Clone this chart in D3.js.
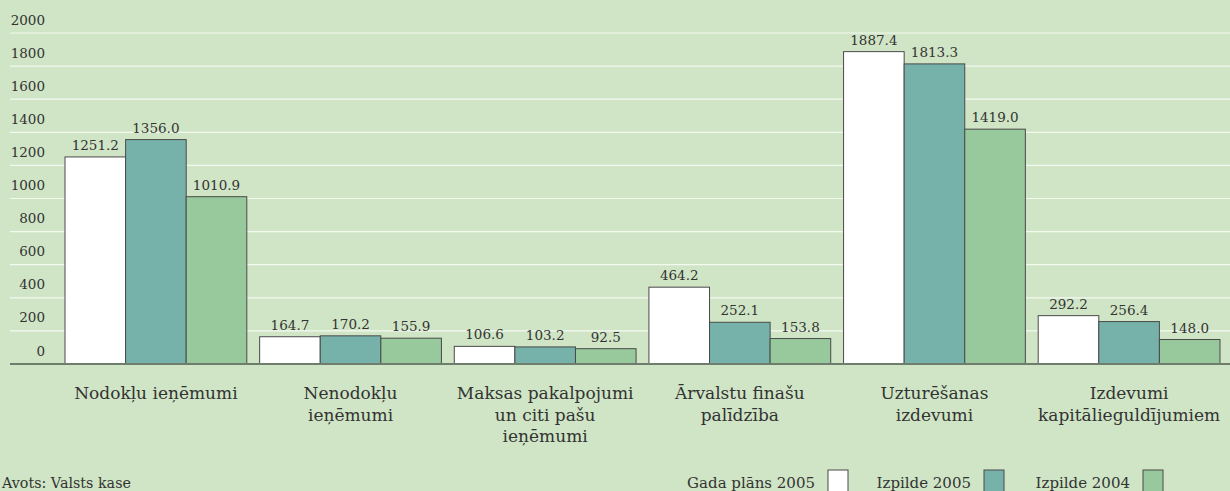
<!DOCTYPE html>
<html>
<head>
<meta charset="utf-8">
<script src="https://cdn.jsdelivr.net/npm/d3@7"></script>
<style>
  body { margin: 0; background: #cfe5c5; }
  svg { display: block; font-family: "DejaVu Serif", serif; }
</style>
</head>
<body>
<svg id="chart" width="1230" height="491"></svg>
<script>
// categories (multi-line labels)
const categories = [
  ["Nodokļu ieņēmumi"],
  ["Nenodokļu", "ieņēmumi"],
  ["Maksas pakalpojumi", "un citi pašu", "ieņēmumi"],
  ["Ārvalstu finašu", "palīdzība"],
  ["Uzturēšanas", "izdevumi"],
  ["Izdevumi", "kapitālieguldījumiem"]
];
const seriesNames = ["Gada plāns 2005", "Izpilde 2005", "Izpilde 2004"];
const plan2005 = [1251.2, 164.7, 106.6, 464.2, 1887.4, 292.2];
const actual2005 = [1356.0, 170.2, 103.2, 252.1, 1813.3, 256.4];
const actual2004 = [1010.9, 155.9, 92.5, 153.8, 1419.0, 148.0];
const yTicks = [0, 200, 400, 600, 800, 1000, 1200, 1400, 1600, 1800, 2000];

const colors = ["#ffffff", "#76b2aa", "#97c99c"];
const series = [plan2005, actual2005, actual2004];

const svg = d3.select("#chart");
const W = 1230;

// scales
const x0 = d3.scaleBand()
  .domain(d3.range(categories.length))
  .range([65, 1220])
  .paddingInner(0.066)
  .paddingOuter(0);

const x1 = d3.scaleBand()
  .domain(d3.range(series.length))
  .range([0, x0.bandwidth()]);

const y = d3.scaleLinear()
  .domain([0, 2000])
  .range([364, 33]);

// gridlines + tick labels
const grid = svg.append("g");
grid.selectAll("line")
  .data(yTicks.filter(d => d > 0))
  .join("line")
    .attr("x1", 10).attr("x2", W)
    .attr("y1", d => y(d)).attr("y2", d => y(d))
    .attr("stroke", "#f4f9f0")
    .attr("stroke-width", 1.2);

grid.selectAll("text")
  .data(yTicks)
  .join("text")
    .attr("x", 45)
    .attr("y", d => y(d) - 8.5)
    .attr("text-anchor", "end")
    .attr("font-size", 13.5)
    .attr("fill", "#333")
    .text(d => d);

// bars
const groups = svg.selectAll(".cat")
  .data(categories)
  .join("g")
    .attr("class", "cat")
    .attr("transform", (d, i) => `translate(${x0(i)},0)`);

groups.selectAll("rect")
  .data((d, i) => series.map((s, k) => ({ k, v: s[i] })))
  .join("rect")
    .attr("x", d => x1(d.k))
    .attr("y", d => y(d.v))
    .attr("width", x1.bandwidth())
    .attr("height", d => y(0) - y(d.v))
    .attr("fill", d => colors[d.k])
    .attr("stroke", "#4a4a4a")
    .attr("stroke-width", 1);

groups.selectAll("text.val")
  .data((d, i) => series.map((s, k) => ({ k, v: s[i] })))
  .join("text")
    .attr("class", "val")
    .attr("x", d => x1(d.k) + x1.bandwidth() / 2)
    .attr("y", d => y(d.v) - 7)
    .attr("text-anchor", "middle")
    .attr("font-size", 13.5)
    .attr("fill", "#333")
    .text(d => d.v.toFixed(1));

// baseline
svg.append("line")
  .attr("x1", 10).attr("x2", W)
  .attr("y1", y(0)).attr("y2", y(0))
  .attr("stroke", "#6e7d6c")
  .attr("stroke-width", 2);

// category labels
groups.append("text")
  .attr("text-anchor", "middle")
  .attr("font-size", 17)
  .attr("fill", "#333")
  .selectAll("tspan")
  .data(d => d)
  .join("tspan")
    .attr("x", x0.bandwidth() / 2)
    .attr("y", (d, i) => 399 + i * 21.5)
    .text(d => d);

// source
svg.append("text")
  .attr("x", 2).attr("y", 488)
  .attr("font-size", 14.3)
  .attr("fill", "#333")
  .text("Avots: Valsts kase");

// legend
const legendX = [828, 984, 1143];
const legend = svg.append("g")
  .selectAll("g")
  .data(seriesNames)
  .join("g")
    .attr("transform", (d, i) => `translate(${legendX[i]},0)`);

legend.append("rect")
  .attr("x", 0).attr("y", 470)
  .attr("width", 20).attr("height", 24)
  .attr("fill", (d, i) => colors[i])
  .attr("stroke", "#4a4a4a")
  .attr("stroke-width", 1);

legend.append("text")
  .attr("x", -13).attr("y", 488)
  .attr("text-anchor", "end")
  .attr("font-size", 15)
  .attr("fill", "#333")
  .text(d => d);
</script>
</body>
</html>
